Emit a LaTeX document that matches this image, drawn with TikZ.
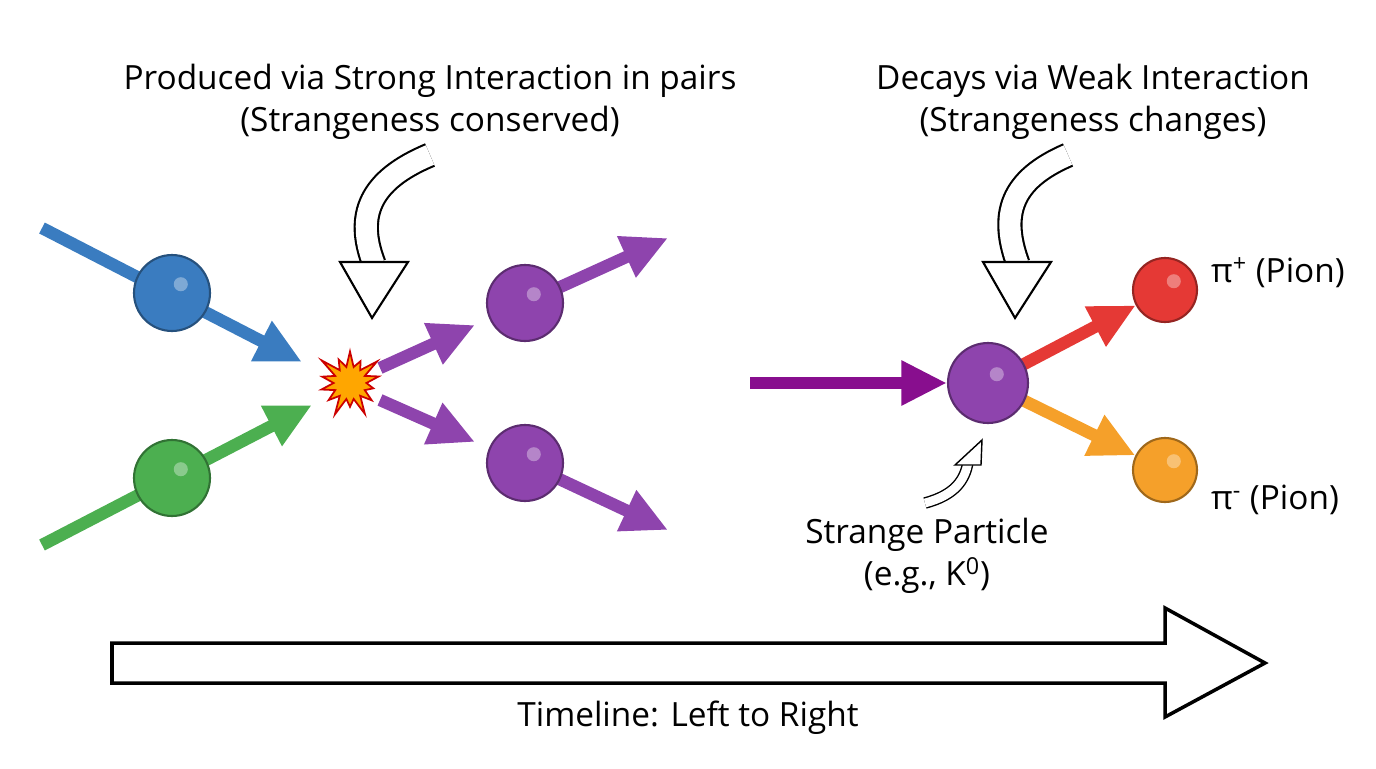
\documentclass[tikz,border=0pt]{standalone}
\usepackage{fontspec}
\setmainfont{Open Sans}
\usetikzlibrary{arrows.meta,shapes.geometric,shapes.symbols}
\definecolor{cblue}{HTML}{3A7CC0}
\definecolor{cgreen}{HTML}{4CAF50}
\definecolor{cpurple}{HTML}{8E44AD}
\definecolor{cred}{HTML}{E53935}
\definecolor{corange}{HTML}{F5A02A}
\definecolor{darkpurple}{HTML}{880E8E}
\begin{document}
\begin{tikzpicture}[x=0.02cm,y=-0.02cm]
\tikzset{ball/.style={circle, draw=#1!65!black, line width=1.2pt, fill=#1, inner sep=0pt,
    path picture={\fill[white, opacity=0.35] ([xshift=5pt,yshift=5pt]path picture bounding box.center) circle (4pt);}},
  fleche/.style={-{Triangle[length=26pt,width=24pt]}, line width=7pt, draw=#1},
  creux/.style={draw=black, line width=1.2pt, double=white, double distance=12pt},
  lbl/.style={font=\fontsize{19}{24}\selectfont, align=center}}
\useasboundingbox (0,0) rectangle (1376,768);
% titres
\node[lbl] (prod) at (430,102) {Produced via Strong Interaction in pairs\\(Strangeness conserved)};
\node[lbl] (dec) at (1093,102) {Decays via Weak Interaction\\(Strangeness changes)};
% collision
\node[starburst, starburst points=14, starburst point height=12pt, fill=orange!70!yellow, draw=red!80!black, line width=1pt, minimum size=1.5cm, inner sep=0pt] (choc) at (350,383) {};
\coordinate (bl0) at (42,228); \coordinate (bl1) at (302,362);
\coordinate (ve0) at (42,545); \coordinate (ve1) at (312,405);
\coordinate (h0) at (380,368); \coordinate (h1) at (475,325); \coordinate (h2) at (668,238);
\coordinate (b0) at (380,400); \coordinate (b1) at (475,442); \coordinate (b2) at (668,530);
\coordinate (hc) at (525,303); \coordinate (bc) at (525,463);
\draw[fleche=cblue] (bl0) -- (bl1);
\draw[fleche=cgreen] (ve0) -- (ve1);
\draw[fleche=cpurple] (h0) -- (h1);
\draw[fleche=cpurple] (b0) -- (b1);
\draw[fleche=cpurple] (hc) -- (h2);
\draw[fleche=cpurple] (bc) -- (b2);
\node[ball=cblue, minimum size=1.52cm] (bleu) at (172,293) {};
\node[ball=cgreen, minimum size=1.52cm] (vert) at (172,478) {};
\node[ball=cpurple, minimum size=1.52cm] (haut) at (hc) {};
\node[ball=cpurple, minimum size=1.52cm] (bas) at (bc) {};
% desintegration
\coordinate (k0) at (750,383); \coordinate (kc) at (988,383);
\node[ball=cred, minimum size=1.28cm] (pip) at (1165,290) {};
\node[ball=corange, minimum size=1.28cm] (pim) at (1165,470) {};
\draw[fleche=cred] (kc) -- (pip);
\draw[fleche=corange] (kc) -- (pim);
\node[ball=cpurple, minimum size=1.6cm] (kaon) at (kc) {};
\draw[fleche=darkpurple] (k0) -- (kaon);
\node[lbl, anchor=west] (lpip) at (1205,273) {π\textsuperscript{+} (Pion)};
\node[lbl, anchor=west] (lpim) at (1205,500) {π\textsuperscript{-} (Pion)};
\node[lbl] (strange) at (927,556) {Strange Particle\\(e.g., K\textsuperscript{0})};
% fleches creuses
\coordinate (c1) at (430,155); \coordinate (c1e) at (374,264);
\draw[creux] (c1) .. controls (370,180) and (355,215) .. (c1e);
\filldraw[fill=white, line width=1.2pt] (340,262) -- (408,262) -- (372,318) -- cycle;
\coordinate (c2) at (1068,155); \coordinate (c2e) at (1018,264);
\draw[creux] (c2) .. controls (1010,180) and (1000,215) .. (c2e);
\filldraw[fill=white, line width=1.2pt] (983,262) -- (1051,262) -- (1015,318) -- cycle;
\coordinate (c3) at (925,503); \coordinate (c3e) at (968,462);
\draw[draw=black, line width=0.8pt, double=white, double distance=5pt] (c3) .. controls (955,495) and (965,480) .. (c3e);
\filldraw[fill=white, line width=0.8pt] (955,465) -- (981,465) -- (982,440) -- cycle;
% ligne du temps
\filldraw[fill=white, line width=2pt] (112,643) -- (1165,643) -- (1165,608) -- (1265,663) -- (1165,717) -- (1165,683) -- (112,683) -- cycle;
\node[lbl] (temps) at (688,718) {Timeline: Left to Right};
\end{tikzpicture}
\end{document}
